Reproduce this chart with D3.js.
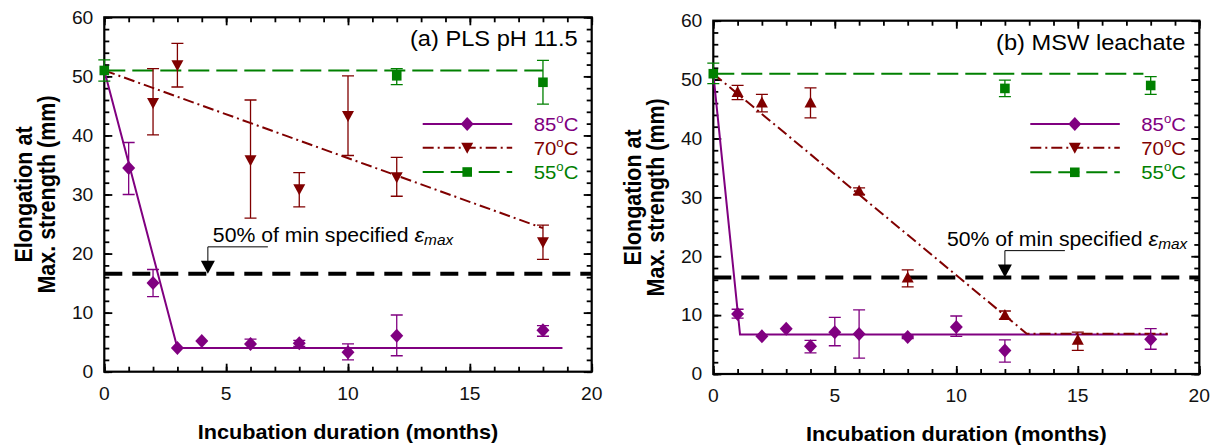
<!DOCTYPE html>
<html>
<head>
<meta charset="utf-8">
<script src="https://cdn.jsdelivr.net/npm/d3@7"></script>
<style>
  body { margin: 0; background: #fff; }
  svg { display: block; }
  text { font-family: "Liberation Sans", Arial, sans-serif; }
</style>
</head>
<body>
<div id="chart"></div>
<script>
// ---- data: panel (a) PLS pH 11.5 ----
var a85_x  = [1, 2, 3, 4, 6, 8, 10, 12, 18];
var a85_y  = [34.5, 15, 4, 5.2, 4.7, 4.8, 3.3, 6.1, 7];
var a85_lo = [30, 12.7, 4, 5.2, 4, 4.3, 2, 2.7, 6];
var a85_hi = [38.8, 17.3, 4, 5.2, 5.5, 5.3, 4.7, 9.6, 7.8];
var a85_fitX = [0, 3, 18.8];
var a85_fitY = [51, 4, 4];

var a70_x  = [2, 3, 6, 8, 10, 12, 18];
var a70_y  = [45.5, 51.9, 35.8, 30.9, 43.3, 32.9, 21.9];
var a70_lo = [40.1, 48.2, 26, 27.9, 36.6, 29.7, 19];
var a70_hi = [51.3, 55.6, 46, 33.7, 50.1, 36.3, 24.8];
var a70_fitX = [0, 18];
var a70_fitY = [51, 24.3];

var a55_x  = [0, 12, 18];
var a55_y  = [51, 50.1, 49];
var a55_lo = [49.2, 48.6, 45.3];
var a55_hi = [52.8, 51.3, 52.7];
var a55_fitX = [0, 18];
var a55_fitY = [51, 51];

var a_limit = 16.6;

// ---- data: panel (b) MSW leachate ----
var b85_x  = [1, 2, 3, 4, 5, 6, 8, 10, 12, 18];
var b85_y  = [10.2, 6.4, 7.7, 4.7, 7.1, 6.8, 6.3, 8.0, 4.0, 5.9];
var b85_lo = [9.5, 6.4, 7.7, 3.6, 4.8, 2.7, 6.0, 6.4, 2.0, 4.2];
var b85_hi = [11.0, 6.4, 7.7, 5.7, 9.6, 10.9, 6.6, 9.85, 5.8, 7.7];
var b85_fitX = [0, 1.1, 18.7];
var b85_fitY = [51, 6.7, 6.7];

var b70_x  = [1, 2, 4, 6, 8, 12, 15];
var b70_y  = [47.9, 46.1, 46.1, 31.1, 16.4, 10.0, 5.8];
var b70_lo = [46.6, 44.5, 43.5, 30.5, 14.8, 9.3, 4.0];
var b70_hi = [49.0, 47.5, 48.6, 31.6, 17.7, 10.7, 7.1];
var b70_fitX = [0, 12.9, 18.7];
var b70_fitY = [51, 6.85, 6.85];

var b55_x  = [0, 12, 18];
var b55_y  = [51, 48.5, 49];
var b55_lo = [49.3, 47.1, 47.5];
var b55_hi = [52.8, 49.9, 50.5];
var b55_fitX = [0, 17.7];
var b55_fitY = [51, 51];

var b_limit = 16.4;

// ---- axes ----
var xMajor = [0, 5, 10, 15, 20];
var xTickLabels = ["0", "5", "10", "15", "20"];
var xMinor = d3.range(0, 21, 1);
var yMajor = [0, 10, 20, 30, 40, 50, 60];
var yTickLabels = ["0", "10", "20", "30", "40", "50", "60"];
var yMinor = d3.range(0, 61, 2);

var purple = "#800080", maroon = "#800000", green = "#008000";
var SX = 1.1; // the original figure's text is slightly stretched sideways

var svg = d3.select("#chart").append("svg")
    .attr("width", 1212)
    .attr("height", 446);

function stext(g, x, y, str, size, anchor, weight, color) {
    return g.append("text")
        .attr("transform", "translate(" + x + "," + y + ") scale(" + SX + ",1)")
        .attr("text-anchor", anchor)
        .style("font-size", size + "px")
        .style("font-weight", weight || "normal")
        .attr("fill", color || "#000")
        .text(str);
}

var shapes = {
    diamond: "M0,-7L6.5,0L0,7L-6.5,0Z",
    down: "M-6,-5L6,-5L0,6Z",
    up: "M0,-6L6,5L-6,5Z",
    square: "M-4.8,-4.8H4.8V4.8H-4.8Z"
};

var panels = [
    {
        left: 104.3, right: 591.7, top: 17.3, bottom: 371.7,
        title: "(a) PLS pH 11.5", limit: a_limit, arrowX: 4.25, textDx: 5,
        legendY: [124, 147.7, 172],
        series: [
            {x: a85_x, y: a85_y, lo: a85_lo, hi: a85_hi, fx: a85_fitX, fy: a85_fitY, color: purple, shape: "diamond", legendShape: "diamond", dash: null, label: "85"},
            {x: a70_x, y: a70_y, lo: a70_lo, hi: a70_hi, fx: a70_fitX, fy: a70_fitY, color: maroon, shape: "down", legendShape: "down", dash: "11,4,2,4", label: "70"},
            {x: a55_x, y: a55_y, lo: a55_lo, hi: a55_hi, fx: a55_fitX, fy: a55_fitY, color: green, shape: "square", legendShape: "square", dash: "21,7", label: "55"}
        ]
    },
    {
        left: 713.3, right: 1199.3, top: 20.7, bottom: 374,
        title: "(b) MSW leachate", limit: b_limit, arrowX: 12, textDx: -58,
        legendY: [124, 147.7, 172.3],
        series: [
            {x: b85_x, y: b85_y, lo: b85_lo, hi: b85_hi, fx: b85_fitX, fy: b85_fitY, color: purple, shape: "diamond", legendShape: "diamond", dash: null, label: "85"},
            {x: b70_x, y: b70_y, lo: b70_lo, hi: b70_hi, fx: b70_fitX, fy: b70_fitY, color: maroon, shape: "up", legendShape: "down", dash: "11,4,2,4", label: "70"},
            {x: b55_x, y: b55_y, lo: b55_lo, hi: b55_hi, fx: b55_fitX, fy: b55_fitY, color: green, shape: "square", legendShape: "square", dash: "21,7", label: "55"}
        ]
    }
];

panels.forEach(function (p) {
    var g = svg.append("g");
    var x = d3.scaleLinear().domain([0, 20]).range([p.left, p.right]);
    var y = d3.scaleLinear().domain([0, 60]).range([p.bottom, p.top]);

    // inward ticks on all four sides
    function ticks(axis, vals, size, tr) {
        g.append("g")
            .attr("transform", tr)
            .call(axis.tickValues(vals).tickSize(size).tickSizeOuter(0).tickFormat(""))
            .call(function (s) { s.select(".domain").remove(); })
            .selectAll("line").attr("stroke", "#000").attr("stroke-width", 1.8);
    }
    ticks(d3.axisBottom(x), xMinor, -5, "translate(0," + p.bottom + ")");
    ticks(d3.axisBottom(x), xMajor, -8, "translate(0," + p.bottom + ")");
    ticks(d3.axisTop(x), xMinor, -5, "translate(0," + p.top + ")");
    ticks(d3.axisTop(x), xMajor, -8, "translate(0," + p.top + ")");
    ticks(d3.axisLeft(y), yMinor, -5, "translate(" + p.left + ",0)");
    ticks(d3.axisLeft(y), yMajor, -8, "translate(" + p.left + ",0)");
    ticks(d3.axisRight(y), yMinor, -5, "translate(" + p.right + ",0)");
    ticks(d3.axisRight(y), yMajor, -8, "translate(" + p.right + ",0)");

    g.append("rect")
        .attr("x", p.left).attr("y", p.top)
        .attr("width", p.right - p.left).attr("height", p.bottom - p.top)
        .attr("fill", "none").attr("stroke", "#000").attr("stroke-width", 2.2);

    // tick labels
    xMajor.forEach(function (v, i) {
        stext(g, x(v), p.bottom + 28, xTickLabels[i], 17.5, "middle", null, "#111");
    });
    yMajor.forEach(function (v, i) {
        stext(g, p.left - 11, y(v) + 6.3, yTickLabels[i], 17.5, "end", null, "#111");
    });

    // axis titles
    stext(g, (p.left + p.right) / 2, p.bottom + 67, "Incubation duration (months)", 19.7, "middle", "bold");
    var cy = (p.top + p.bottom) / 2;
    [["Elongation at", -72], ["Max. strength (mm)", -49]].forEach(function (t) {
        g.append("text")
            .attr("transform", "translate(" + (p.left + t[1]) + "," + cy + ") scale(" + SX + ",1) rotate(-90)")
            .attr("text-anchor", "middle")
            .style("font-size", "21.5px")
            .style("font-weight", "bold")
            .text(t[0]);
    });

    // panel title
    stext(g, p.right - 14, p.top + 29, p.title, 21.5, "end");

    // 50% limit line with annotation
    var ly = y(p.limit);
    g.append("line")
        .attr("x1", x(0)).attr("x2", x(20))
        .attr("y1", ly).attr("y2", ly)
        .attr("stroke", "#000").attr("stroke-width", 4)
        .attr("stroke-dasharray", "18,10");
    var ax = x(p.arrowX);
    g.append("path")
        .attr("d", "M" + (ax + 60) + "," + (ly - 26.8) + "H" + ax + "V" + (ly - 12))
        .attr("fill", "none").attr("stroke", "#000").attr("stroke-width", 1);
    g.append("path")
        .attr("d", "M" + (ax - 7) + "," + (ly - 13) + "L" + (ax + 7) + "," + (ly - 13) + "L" + ax + "," + ly + "Z")
        .attr("fill", "#000");
    var ann = stext(g, ax + p.textDx, ly - 31.8, "50% of min specified ", 19.3, "start");
    ann.append("tspan").style("font-style", "italic").style("font-size", "20px").text("\u03b5");
    ann.append("tspan").style("font-style", "italic").style("font-size", "14px").attr("dy", 3).text("max");

    // fit lines
    var line = d3.line()
        .x(function (d) { return x(d[0]); })
        .y(function (d) { return y(d[1]); });
    p.series.forEach(function (s) {
        g.append("path")
            .datum(d3.zip(s.fx, s.fy))
            .attr("d", line)
            .attr("fill", "none")
            .attr("stroke", s.color)
            .attr("stroke-width", 2)
            .attr("stroke-dasharray", s.dash);
    });

    // error bars and markers
    p.series.forEach(function (s) {
        var pts = s.x.map(function (v, i) { return {x: v, y: s.y[i], lo: s.lo[i], hi: s.hi[i]}; });
        var eb = g.append("g").attr("stroke", s.color).attr("stroke-width", 1.3).attr("fill", "none");
        pts.filter(function (d) { return d.hi - d.lo > 0.5; }).forEach(function (d) {
            var cx = x(d.x);
            eb.append("path").attr("d",
                "M" + cx + "," + y(d.lo) + "V" + y(d.hi) +
                "M" + (cx - 6) + "," + y(d.hi) + "H" + (cx + 6) +
                "M" + (cx - 6) + "," + y(d.lo) + "H" + (cx + 6));
        });
        g.selectAll(null).data(pts).enter().append("path")
            .attr("d", shapes[s.shape])
            .attr("transform", function (d) { return "translate(" + x(d.x) + "," + y(d.y) + ")"; })
            .attr("fill", s.color);
    });

    // legend
    p.series.forEach(function (s, i) {
        var yy = p.legendY[i];
        g.append("line")
            .attr("x1", p.right - 169).attr("x2", p.right - 79.5)
            .attr("y1", yy).attr("y2", yy)
            .attr("stroke", s.color).attr("stroke-width", 2)
            .attr("stroke-dasharray", s.dash);
        g.append("path")
            .attr("d", shapes[s.legendShape])
            .attr("transform", "translate(" + (p.right - 124.5) + "," + yy + ")")
            .attr("fill", s.color);
        var t = stext(g, p.right - 58, yy + 7, s.label, 18.5, "start", null, s.color);
        t.append("tspan").style("font-size", "12px").attr("dy", -8).text("o");
        t.append("tspan").attr("dy", 8).text("C");
    });
});
</script>
</body>
</html>
